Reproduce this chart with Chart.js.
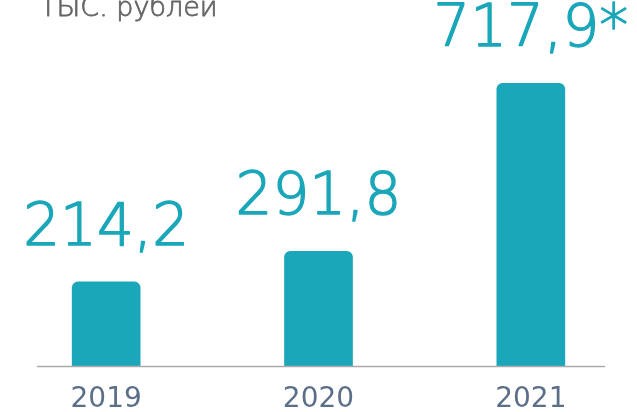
<!DOCTYPE html>
<html>
<head>
<meta charset="utf-8">
<script src="https://cdn.jsdelivr.net/npm/chart.js@4"></script>
<style>
  html, body { margin: 0; padding: 0; background: #fff; }
  #wrap { width: 637px; height: 412px; }
</style>
</head>
<body>
<div id="wrap"><canvas id="canvas"></canvas></div>
<script>
const years = ['2019', '2020', '2021'];
const revenue = [214.2, 291.8, 717.9];
const notes = ['', '', '*'];
const unitLabel = 'ТЫС. рублей';

const teal = '#1aa7b9';
const fontFamily = "'DejaVu Sans', sans-serif";

// value captions over each bar + unit caption at the top
const captions = {
    id: 'captions',
    afterDatasetsDraw(chart) {
        const ctx = chart.ctx;
        const meta = chart.getDatasetMeta(0);
        ctx.save();
        ctx.fillStyle = teal;
        ctx.strokeStyle = teal;
        ctx.lineWidth = 1.4;
        ctx.lineJoin = 'round';
        ctx.font = '200 58px ' + fontFamily;
        ctx.textAlign = 'center';
        ctx.textBaseline = 'alphabetic';
        meta.data.forEach(function (bar, i) {
            const txt = revenue[i].toFixed(1).replace('.', ',') + notes[i];
            ctx.fillText(txt, bar.x, bar.y - 37);
            ctx.strokeText(txt, bar.x, bar.y - 37);
        });
        ctx.fillStyle = '#666666';
        ctx.strokeStyle = '#666666';
        ctx.lineWidth = 0.8;
        ctx.font = '200 27px ' + fontFamily;
        ctx.textAlign = 'left';
        ctx.fillText(unitLabel, 40, 16);
        ctx.strokeText(unitLabel, 40, 16);
        // base line
        const y0 = chart.scales.y.getPixelForValue(0);
        const area = chart.chartArea;
        ctx.strokeStyle = '#aaaaaa';
        ctx.lineWidth = 1.5;
        ctx.beginPath();
        ctx.moveTo(area.left + area.width * 0.058, y0);
        ctx.lineTo(area.right - area.width * 0.05, y0);
        ctx.stroke();
        ctx.restore();
    }
};

const ctx = document.getElementById('canvas').getContext('2d');
const myChart = new Chart(ctx, {
    type: 'bar',
    data: {
        labels: years,
        datasets: [
            {
                data: revenue,
                backgroundColor: teal,
                borderRadius: { topLeft: 6, topRight: 6, bottomLeft: 0, bottomRight: 0 },
                borderSkipped: false,
                barThickness: 68
            }
        ]
    },
    options: {
        responsive: true,
        maintainAspectRatio: false,
        animation: false,
        layout: { padding: { top: 51, left: 0, right: 0, bottom: -22 } },
        plugins: {
            legend: { display: false },
            tooltip: { enabled: false },
            title: { display: false }
        },
        scales: {
            x: {
                grid: { display: false, drawTicks: false },
                border: { display: false },
                ticks: {
                    color: '#5b6f88',
                    padding: 17,
                    font: { family: fontFamily, size: 28, weight: 'normal' }
                }
            },
            y: {
                display: false,
                min: 0,
                max: 800
            }
        }
    },
    plugins: [captions]
});
</script>
</body>
</html>
